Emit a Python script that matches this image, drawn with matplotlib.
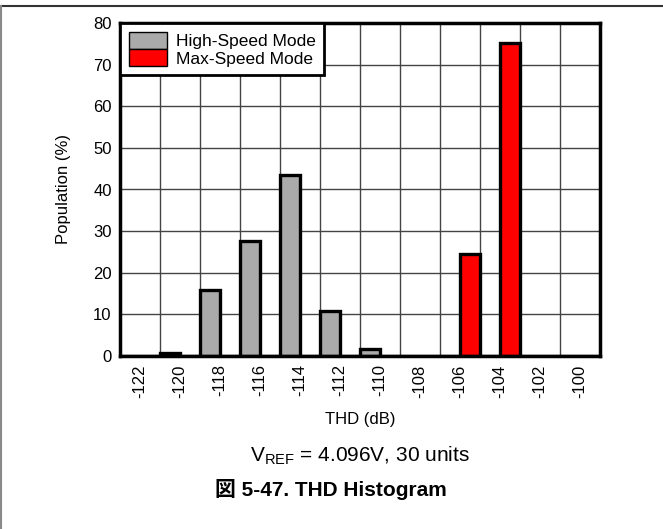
import numpy as np
import matplotlib.pyplot as plt
from matplotlib.patches import Patch
from matplotlib.lines import Line2D

plt.rcParams['font.family'] = ['Liberation Sans', 'Noto Sans CJK JP', 'DejaVu Sans']

# data
thd_bins = [-122, -120, -118, -116, -114, -112, -110, -108, -106, -104, -102, -100]
high_speed = [0, 0.8, 15.9, 27.6, 43.4, 10.7, 1.8, 0, 0, 0, 0, 0]
max_speed = [0, 0, 0, 0, 0, 0, 0, 0, 24.6, 75.3, 0, 0]

x = np.arange(len(thd_bins))

fig = plt.figure(figsize=(6.63, 5.29), dpi=100)
ax = fig.add_axes([120/663, 1 - 356/529, 480/663, 333/529])

ax.bar(x - 0.25, high_speed, width=0.5, color='#aaaaaa', edgecolor='black', linewidth=2.4, zorder=3)
ax.bar(x + 0.25, max_speed, width=0.5, color='#ff0000', edgecolor='black', linewidth=2.4, zorder=3)

ax.set_xlim(-0.5, len(thd_bins) - 0.5)
ax.set_ylim(0, 80)
ax.set_yticks(np.arange(0, 81, 10))
ax.set_xticks(x)
ax.set_xticklabels([str(b) for b in thd_bins], rotation=90)
ax.set_xticks(np.arange(-0.5, len(thd_bins)), minor=True)
ax.grid(True, which='minor', axis='x', color='#444444', lw=1, zorder=1)
ax.grid(True, which='major', axis='y', color='#444444', lw=1, zorder=1)
ax.tick_params(which='both', length=0, labelsize=12)
ax.tick_params(axis='x', pad=6)
ax.tick_params(axis='y', pad=6)
for s in ax.spines.values():
    s.set_linewidth(2.5)
    s.set_zorder(4)

ax.set_ylabel('Population (%)', fontsize=12, labelpad=16)
ax.set_xlabel('THD (dB)', fontsize=12, labelpad=10)

handles = [Patch(facecolor='#aaaaaa', edgecolor='black', lw=1, label='High-Speed Mode'),
           Patch(facecolor='#ff0000', edgecolor='black', lw=1, label='Max-Speed Mode')]
leg = ax.legend(handles=handles, loc='upper left', borderaxespad=0, fancybox=False,
                fontsize=12.5, handlelength=2.2, handleheight=1.15, labelspacing=0,
                handletextpad=0.5, borderpad=0.5, framealpha=1)
leg.get_frame().set_edgecolor('black')
leg.get_frame().set_linewidth(2)
leg.set_zorder(5)

fig.text(360/663, 1 - 456/529, r'V$_\mathregular{REF}$ = 4.096V, 30 units', fontsize=15,
         ha='center', va='center')
fig.text(331/663, 1 - 490/529, '図 5-47. THD Histogram', fontsize=15, fontweight='bold',
         ha='center', va='center')

# page frame lines
fig.add_artist(Line2D([0, 1], [1 - 6/529, 1 - 6/529], color='#333333', lw=1.5))
fig.add_artist(Line2D([0.5/663, 0.5/663], [0, 1 - 6/529], color='#888888', lw=1.5))

plt.savefig('out.png', dpi=100)
